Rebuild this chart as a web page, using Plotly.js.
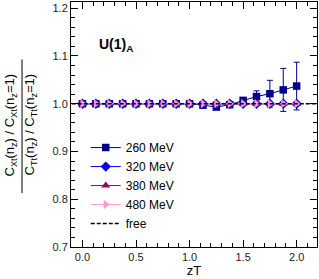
<!DOCTYPE html>
<html><head><meta charset="utf-8">
<script src="https://cdn.plot.ly/plotly-3.0.1.min.js"></script>
<style>html,body{margin:0;padding:0;background:#fff;}#plot{width:319px;height:279px;}</style>
</head><body><div id="plot"></div>
<script>
const zT = [0,0.125,0.25,0.375,0.5,0.625,0.75,0.875,1.0,1.125,1.25,1.375,1.5,1.625,1.75,1.875,2.0];
const r260 = [1,1,1,1,1,1,1,1,1,0.997,0.993,0.998,1.007,1.015,1.021,1.029,1.037];
const e260 = [0,0,0,0,0.0005,0.0005,0.001,0.001,0.001,0.002,0.002,0.003,0.004,0.012,0.028,0.045,0.05];
const r320 = [1,1,1,1,1,1,1,1,1,1,1,1,1,1,1,1,1];
const r380 = [1,1,1,1,1,1,1,1,1,1,1,1,1,1,1,1,1];
const r480 = [1,1,1,1,1,1,1,1,1,1,1,1,1,1,1,1,1];
const freeX = [-0.1, 2.2];
const freeY = [1, 1];
const names = ['260 MeV','320 MeV','380 MeV','480 MeV','free'];

const data = [
  {x: zT, y: r260, name: names[0], mode: 'lines+markers', type: 'scatter',
   line: {color: '#000080', width: 1}, marker: {symbol: 'square', size: 7.5, color: '#000080'},
   error_y: {type: 'data', array: e260, color: '#000080', thickness: 1, width: 3}},
  {x: zT, y: r320, name: names[1], mode: 'lines+markers', type: 'scatter',
   line: {color: '#0000ff', width: 1}, marker: {symbol: 'diamond', size: 8, color: '#0000ff'}},
  {x: zT, y: r380, name: names[2], mode: 'lines+markers', type: 'scatter',
   line: {color: '#990066', width: 1}, marker: {symbol: 'triangle-up', size: 8, color: '#990066'}},
  {x: zT, y: r480, name: names[3], mode: 'lines+markers', type: 'scatter',
   line: {color: '#ff99cc', width: 1}, marker: {symbol: 'triangle-right', size: 8, color: '#ff99cc'}},
  {x: freeX, y: freeY, name: names[4], mode: 'lines', type: 'scatter',
   line: {color: '#000000', width: 1.5, dash: '4px,2px'}}
];

const F = 'Liberation Sans, Arial, sans-serif';
const layout = {
  width: 319, height: 279,
  margin: {l: 71, r: 2, t: 2, b: 32},
  paper_bgcolor: '#fff', plot_bgcolor: '#fff',
  font: {family: F, size: 11, color: '#000'},
  showlegend: true,
  legend: {x: 0.06, y: 0.465, xanchor: 'left', yanchor: 'top', bgcolor: 'rgba(0,0,0,0)',
           font: {family: F, size: 12, color: '#000'}, itemwidth: 30, tracegroupgap: 0},
  xaxis: {range: [-0.107, 2.19], showgrid: false, zeroline: false, showline: true, mirror: 'allticks',
          linecolor: '#000', linewidth: 1, ticks: 'inside', ticklen: 7, tickcolor: '#000',
          tickvals: [0,0.5,1.0,1.5,2.0], ticktext: ['0.0','0.5','1.0','1.5','2.0'],
          minor: {dtick: 0.1, ticks: 'inside', ticklen: 4, tickcolor: '#000', showgrid: false},
          tickfont: {family: F, size: 11, color: '#222'},
          title: {text: 'zT', font: {family: F, size: 13, color: '#000'}, standoff: 2}},
  yaxis: {range: [0.7, 1.213], showgrid: false, zeroline: false, showline: true, mirror: 'allticks',
          linecolor: '#000', linewidth: 1, ticks: 'inside', ticklen: 7, tickcolor: '#000',
          tickvals: [0.7,0.8,0.9,1.0,1.1,1.2], ticktext: ['0.7','0.8','0.9','1.0','1.1','1.2'],
          minor: {dtick: 0.02, ticks: 'inside', ticklen: 4, tickcolor: '#000', showgrid: false},
          tickfont: {family: F, size: 11, color: '#222'}},
  annotations: [
    {xref: 'paper', yref: 'paper', x: 0.106, y: 0.825, xanchor: 'left', yanchor: 'middle', showarrow: false,
     text: '<b>U(1)<sub>A</sub></b>', font: {family: F, size: 14, color: '#000'}},
    {xref: 'paper', yref: 'paper', x: -0.244, y: 0.5, xanchor: 'center', yanchor: 'middle', showarrow: false,
     textangle: -90, text: 'C<sub>Xt</sub>(n<sub>z</sub>) / C<sub>Xt</sub>(n<sub>z</sub>=1)',
     font: {family: F, size: 13, color: '#000'}},
    {xref: 'paper', yref: 'paper', x: -0.163, y: 0.5, xanchor: 'center', yanchor: 'middle', showarrow: false,
     textangle: -90, text: 'C<sub>Tt</sub>(n<sub>z</sub>) / C<sub>Tt</sub>(n<sub>z</sub>=1)',
     font: {family: F, size: 13, color: '#000'}}
  ],
  shapes: [
    {type: 'line', xref: 'paper', yref: 'paper', x0: -0.199, x1: -0.199, y0: 0.22, y1: 0.765,
     line: {color: '#000', width: 1}}
  ]
};
Plotly.newPlot('plot', data, layout, {displayModeBar: false, staticPlot: true});
</script></body></html>
